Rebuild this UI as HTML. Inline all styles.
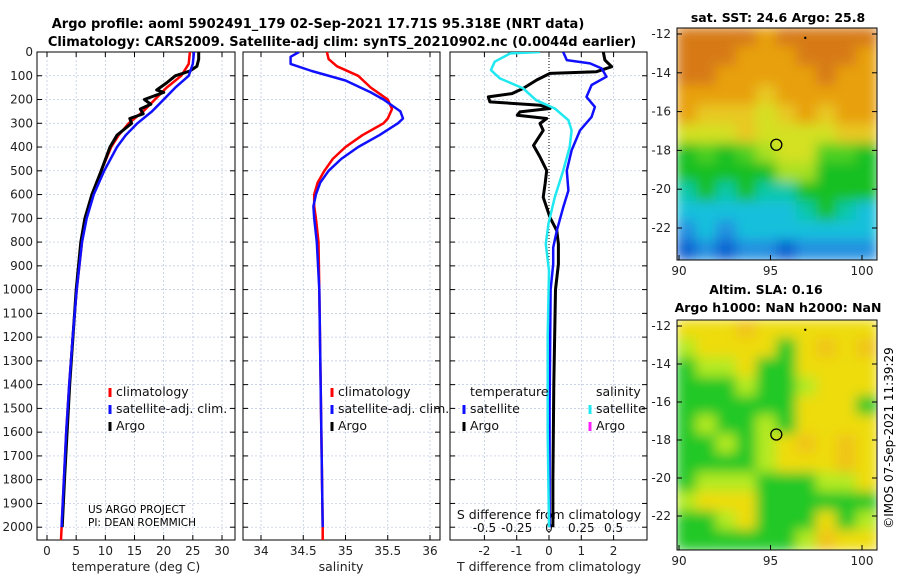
<!DOCTYPE html>
<html><head><meta charset="utf-8"><style>
body{margin:0;background:#fff;}
svg{display:block;font-family:"DejaVu Sans","Liberation Sans",sans-serif;}
</style></head><body>
<svg id="fig" width="900" height="580" viewBox="0 0 900 580">
<defs><filter id="blur" x="0" y="0" width="1" height="1"><feGaussianBlur stdDeviation="6"/></filter>
<clipPath id="c1"><rect x="37" y="52" width="198" height="488"/></clipPath>
<clipPath id="c2"><rect x="243" y="52" width="197" height="488"/></clipPath>
<clipPath id="c3"><rect x="450" y="52" width="197" height="488"/></clipPath>
<clipPath id="cm1"><rect x="677" y="28" width="200" height="232"/></clipPath>
<clipPath id="cm2"><rect x="677" y="320" width="200" height="230"/></clipPath>
</defs>
<text x="318" y="28" font-size="13" font-weight="bold" text-anchor="middle">Argo profile: aoml 5902491_179 02-Sep-2021 17.71S 95.318E (NRT data)</text>
<text x="342" y="46" font-size="13" font-weight="bold" text-anchor="middle">Climatology: CARS2009. Satellite-adj clim: synTS_20210902.nc (0.0044d earlier)</text>
<g id="g1"></g>
<g id="g2"></g>
<g id="g3"></g>
<g id="m1"></g>
<g id="m2"></g>
<text x="778" y="22" font-size="12.5" font-weight="bold" text-anchor="middle">sat. SST: 24.6 Argo: 25.8</text>
<text x="766" y="294" font-size="12.5" font-weight="bold" text-anchor="middle">Altim. SLA: 0.16</text>
<text x="778" y="312" font-size="12.5" font-weight="bold" text-anchor="middle">Argo h1000: NaN h2000: NaN</text>
<text transform="translate(893,438) rotate(-90)" font-size="12" text-anchor="middle">©IMOS 07-Sep-2021 11:39:29</text>
<text x="88" y="513" font-size="10.5">US ARGO PROJECT</text>
<text x="88" y="526" font-size="10.5">PI: DEAN ROEMMICH</text>
</svg>
<script>
// ---- data ----
const depthTicks=[0,100,200,300,400,500,600,700,800,900,1000,1100,1200,1300,1400,1500,1600,1700,1800,1900,2000];
const tTicks=[0,5,10,15,20,25,30];
const sTicks=[34,34.5,35,35.5,36];
const dTicks=[-2,-1,0,1,2];
const sdTicks=[-0.5,-0.25,0,0.25,0.5];
const sdTickLabels=["-0.5","-0.25","0","0.25","0.5"];
const tClimD=[0,50,100,150,200,250,300,350,400,500,600,700,800,1000,1200,1400,1600,1800,2000,2054];
const tClimV=[24.5,24.3,23,20.5,18.5,16.5,14,12.3,11,9.3,7.8,6.7,6,5.1,4.4,3.8,3.3,2.9,2.5,2.4];
const tSatD=[0,50,100,150,200,250,300,350,400,500,600,700,800,1000,1200,1400,1600,1800,2000];
const tSatV=[25.2,25,24.3,22,20,18,15.5,13.5,12,9.8,8,6.8,6,5.1,4.4,3.8,3.3,2.9,2.5];
const tArgoD=[0,30,60,80,100,130,160,170,190,200,220,240,260,280,300,350,400,500,600,700,800,1000,1400,1800,2000];
const tArgoV=[26,26,25.7,24.5,22,20.5,18.8,20,17.8,16.7,17.8,16,16.5,14.2,14.5,12,10.8,9.3,7.7,6.5,5.8,5,3.9,3,2.6];
const sClimD=[0,30,60,100,150,200,240,280,300,350,400,450,500,550,600,650,700,800,1000,1500,2000,2054];
const sClimV=[34.78,34.8,34.9,35.15,35.3,35.5,35.55,35.5,35.45,35.2,35.0,34.85,34.75,34.67,34.63,34.63,34.65,34.68,34.69,34.71,34.73,34.73];
const sSatD=[0,20,50,80,120,170,200,250,280,300,350,400,450,500,550,600,650,700,800,1000,1500,2000];
const sSatV=[34.45,34.35,34.35,34.6,35.0,35.3,35.45,35.65,35.68,35.62,35.4,35.15,34.95,34.8,34.7,34.65,34.62,34.63,34.66,34.69,34.71,34.73];
const dTSatD=[0,34,48,69,104,139,189,231,273,330,414,499,583,654,752,823,893,1000,1500,2000];
const dTSatV=[0.44,0.55,1.27,1.63,1.78,1.32,1.16,1.42,1.32,0.96,0.7,0.55,0.6,0.44,0.24,0.13,0.13,0.05,0.02,0.02];
const dSSatD=[0,6,41,76,111,153,203,238,287,330,400,499,611,724,808,921,1200,1600,2000];
const dSSatV=[-0.07,-0.3,-0.42,-0.45,-0.38,-0.2,-0.1,0.045,0.15,0.175,0.16,0.11,0.045,-0.005,-0.025,0,-0.01,-0.01,0];
const dTArgoD=[0,34,62,83,90,118,153,175,189,210,224,238,252,266,280,301,330,393,442,499,555,611,696,752,808,893,1000,1400,1800,2000];
const dTArgoV=[1.68,1.73,1.94,1.47,0.03,-0.38,-0.8,-1.15,-1.88,-1.83,-0.28,0.03,-0.9,-0.98,-0.07,-0.28,-0.18,-0.48,-0.28,-0.07,-0.12,-0.18,0.03,0.24,0.29,0.29,0.2,0.15,0.12,0.12];
const map1Rows=["OOOOoOOOOO","OOOoooOOOo","OOoooooOoo","ooooyooooo","oyyyYyoyoo","YYYyYYYYyy","GgGgLYYggG","GGGGGLLGGG","cGcGccGGGG","CCCCCCcGcC","BCBCCCCCCC","DBDBBDBBBB"];
const map2Rows=["YYYOYYYYYY","LYYYYGYOYO","GLLYGGYYYY","GGGLGGLYYY","GGGGGGYYYG","GLGGLGYYYY","GGLGLYOYOY","GGGGLYYYOY","GLLLGGGLLY","LYYYGGGGGG","GGLYGGGYGL","GGGGGGLOYY"];
const map1Pal={O:"#d77a18",o:"#e8a010",y:"#e8c820",Y:"#d4e020",L:"#a8e020",g:"#50d020",G:"#18c020",c:"#10c8a8",C:"#18c0dc",B:"#2090e0",D:"#1060d0"};
const map2Pal={Y:"#eedc10",O:"#f0c418",L:"#b4ea20",G:"#22c828"};
const argoLon=95.318, argoLat=-17.71;
// ---- axes ----
const NS="http://www.w3.org/2000/svg";
const yD=d=>52+d*0.2376;
const xT=t=>47+t*5.833;
const xS=s=>261+(s-34)*84.5;
const xDT=v=>549+v*32.3;
const xDS=v=>549+v*129.2;
const lonX=l=>679+(l-90)*18.3;
const lat1Y=l=>34+(-12-l)*19.4;
const lat2Y=l=>326+(-12-l)*19;
function el(p,tag,attrs,txt){const e=document.createElementNS(NS,tag);for(const k in attrs)e.setAttribute(k,attrs[k]);if(txt!==undefined)e.textContent=txt;p.appendChild(e);return e;}
function panel(g,x0,x1,vt,xf,labels){
  for(const d of depthTicks){const l=el(g,'line',{x1:x0,x2:x1,y1:yD(d),y2:yD(d),stroke:'#b8c4e0','stroke-width':0.7,'stroke-dasharray':'2,2'});
  
  el(g,'line',{x1:x0,x2:x0+5,y1:yD(d),y2:yD(d),stroke:'#000'});el(g,'line',{x1:x1-5,x2:x1,y1:yD(d),y2:yD(d),stroke:'#000'});}
  vt.forEach((v,i)=>{const x=xf(v);
    if(v!==0||xf!==xDT){const l=el(g,'line',{x1:x,x2:x,y1:52,y2:540,stroke:'#b8c4e0','stroke-width':0.7,'stroke-dasharray':'2,2'});}
    el(g,'line',{x1:x,x2:x,y1:540,y2:535,stroke:'#000'});el(g,'line',{x1:x,x2:x,y1:52,y2:57,stroke:'#000'});
    const t=el(g,'text',{x:x,y:555,'font-size':12,'text-anchor':'middle',fill:'#222'},labels[i]);
    });
  const r=el(g,'rect',{x:x0,y:52,width:x1-x0,height:488,fill:'none',stroke:'#000','stroke-width':1});
  
}
function line(g,D,V,xf,color,w,name,clip){
  const p=el(g,'polyline',{points:D.map((d,i)=>xf(V[i]).toFixed(1)+','+yD(d).toFixed(1)).join(' '),fill:'none',stroke:color,'stroke-width':w,'stroke-linejoin':'round','clip-path':'url(#'+clip+')'});
  
}
function legend(g,x,y,color,txt,name){
  el(g,'line',{x1:x,x2:x,y1:y-8,y2:y+1,stroke:color,'stroke-width':3});
  const t=el(g,'text',{x:x+6,y:y,'font-size':12.5,fill:'#111'},txt);
  
}
const g1=document.getElementById('g1'),g2=document.getElementById('g2'),g3=document.getElementById('g3');
const svg=document.getElementById('fig');
depthTicks.forEach(d=>{const t=el(svg,'text',{x:33,y:yD(d)+4,'font-size':12,'text-anchor':'end',fill:'#222'},String(d));
});
panel(g1,37,235,tTicks,xT,tTicks.map(String));
panel(g2,243,440,sTicks,xS,sTicks.map(String));
panel(g3,450,647,dTicks,xDT,dTicks.map(String));
el(g3,'line',{x1:549,x2:549,y1:52,y2:540,stroke:'#000','stroke-width':1,'stroke-dasharray':'1,2'});
sdTicks.forEach((v,i)=>{const t=el(g3,'text',{x:xDS(v),y:532,'font-size':12,'text-anchor':'middle',fill:'#111'},sdTickLabels[i]);
});
const sdt=el(g3,'text',{x:549,y:519,'font-size':12.5,'text-anchor':'middle',fill:'#111'},'S difference from climatology');

[[136,'temperature (deg C)'],[341,'salinity'],[549,'T difference from climatology']].forEach(([x,s])=>{
const t=el(svg,'text',{x:x,y:571,'font-size':12.5,'text-anchor':'middle',fill:'#222'},s);
});
line(g1,tClimD,tClimV,xT,'#ff0000',2.5,'temp-climatology-line','c1');
line(g1,tArgoD,tArgoV,xT,'#000',3,'temp-argo-line','c1');
line(g1,tSatD,tSatV,xT,'#1010ff',2.5,'temp-satellite-line','c1');
line(g2,sClimD,sClimV,xS,'#ff0000',2.5,'sal-climatology-line','c2');
line(g2,sSatD,sSatV,xS,'#1010ff',2.5,'sal-satellite-line','c2');
line(g3,dTArgoD,dTArgoV,xDT,'#000',3,'tdiff-argo-line','c3');
line(g3,dTSatD,dTSatV,xDT,'#1010ff',2.5,'tdiff-satellite-line','c3');
line(g3,dSSatD,dSSatV,xDS,'#20e8f0',2.5,'sdiff-satellite-line','c3');
legend(g1,110,396,'#ff0000','climatology','legend-climatology');
legend(g1,110,413,'#1010ff','satellite-adj. clim.','legend-satellite-adj');
legend(g1,110,430,'#000','Argo','legend-argo');
legend(g2,332,396,'#ff0000','climatology','legend-climatology');
legend(g2,332,413,'#1010ff','satellite-adj. clim.','legend-satellite-adj');
legend(g2,332,430,'#000','Argo','legend-argo');
let tt=el(g3,'text',{x:470,y:396,'font-size':12.5,fill:'#111'},'temperature');
tt=el(g3,'text',{x:596,y:396,'font-size':12.5,fill:'#111'},'salinity');
legend(g3,464,413,'#1010ff','satellite','legend-t-satellite');
legend(g3,464,430,'#000','Argo','legend-t-argo');
legend(g3,590,413,'#20e8f0','satellite','legend-s-satellite');
legend(g3,590,430,'#ff20ff','Argo','legend-s-argo');
// ---- maps ----
function map(g,rows,pal,top,h,latY,clip){
  const gg=el(g,'g',{'clip-path':'url(#'+clip+')'});
  const inner=el(gg,'g',{filter:'url(#blur)'});
  const cw=200/10,ch=h/12;
  el(inner,'rect',{x:677,y:top,width:200,height:h,fill:pal[rows[5][5]]});
  rows.forEach((r,i)=>{[...r].forEach((c,j)=>{
    const rc=el(inner,'rect',{x:677+j*cw-1,y:top+i*ch-1,width:cw+2,height:ch+2,fill:pal[c]});
    });});
  el(g,'rect',{x:677,y:top,width:200,height:h,fill:'none',stroke:'#000'});
  [-12,-14,-16,-18,-20,-22].forEach(l=>{const y=latY(l);
    el(g,'line',{x1:677,x2:682,y1:y,y2:y,stroke:'#000'});el(g,'line',{x1:872,x2:877,y1:y,y2:y,stroke:'#000'});
    const t=el(g,'text',{x:671,y:y+4,'font-size':12,'text-anchor':'end',fill:'#222'},String(l));
    });
  [90,95,100].forEach(l=>{const x=lonX(l);
    el(g,'line',{x1:x,x2:x,y1:top+h,y2:top+h-5,stroke:'#000'});
    const t=el(g,'text',{x:x,y:top+h+15,'font-size':12,'text-anchor':'middle',fill:'#222'},String(l));
    });
  const c=el(g,'circle',{cx:lonX(argoLon),cy:latY(argoLat),r:5.5,fill:'none',stroke:'#000','stroke-width':1.3});
  
  el(g,'circle',{cx:lonX(96.9),cy:latY(-12.2),r:1.2,fill:'#000'});
}
map(document.getElementById('m1'),map1Rows,map1Pal,28,232,lat1Y,'cm1');
map(document.getElementById('m2'),map2Rows,map2Pal,320,230,lat2Y,'cm2');
</script>
</body></html>
